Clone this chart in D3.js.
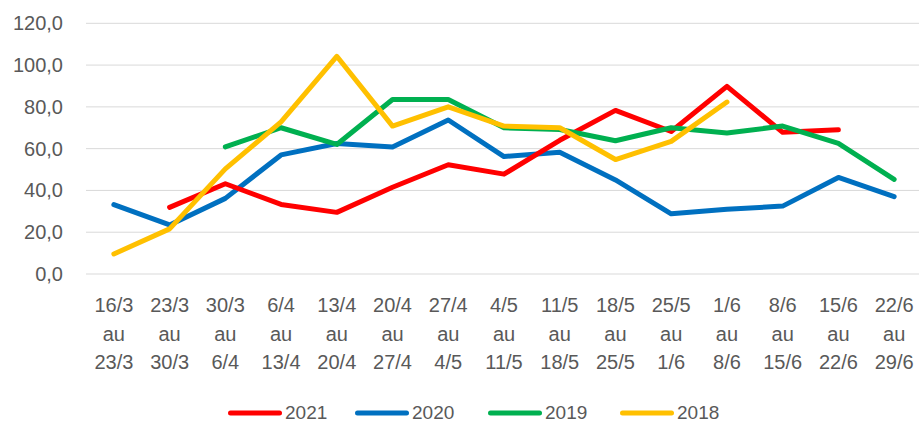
<!DOCTYPE html>
<html><head><meta charset="utf-8">
<script src="https://cdn.jsdelivr.net/npm/d3@7"></script>
<style>html,body{margin:0;padding:0;background:#fff;}svg{display:block;}</style>
</head><body>
<svg id="chart" width="919" height="423"></svg>
<script>
const categories = [
  ["16/3","au","23/3"],["23/3","au","30/3"],["30/3","au","6/4"],["6/4","au","13/4"],
  ["13/4","au","20/4"],["20/4","au","27/4"],["27/4","au","4/5"],["4/5","au","11/5"],
  ["11/5","au","18/5"],["18/5","au","25/5"],["25/5","au","1/6"],["1/6","au","8/6"],
  ["8/6","au","15/6"],["15/6","au","22/6"],["22/6","au","29/6"]
];
const seriesNames = ["2021","2020","2019","2018"];
const values2021 = [null,31.9,43.2,33.3,29.5,41.5,52.3,47.8,64.0,78.3,68.2,89.8,67.8,69.0,null];
const values2020 = [33.2,23.5,36.2,57.0,62.5,60.8,73.7,56.2,58.3,45.0,28.8,31.0,32.5,46.2,37.0];
const values2019 = [null,null,60.8,70.0,62.0,83.5,83.5,70.0,69.2,63.8,70.0,67.5,70.8,62.5,45.3];
const values2018 = [9.6,21.6,50.3,72.8,104.2,70.8,80.0,70.8,70.0,54.8,63.5,82.3,null,null,null];
const yTicks = [0,20,40,60,80,100,120];
const colors = {"2021":"#FF0000","2020":"#0070C0","2019":"#00B050","2018":"#FFC000"};
const seriesValues = {"2021":values2021,"2020":values2020,"2019":values2019,"2018":values2018};

(function(){
const svg = d3.select("#chart");
const plotLeft = 86, plotRight = 922, plotTop = 23.3, plotBottom = 274;
const font = "'Liberation Sans', Arial, sans-serif";
const textColor = "#595959";

const x = d3.scaleBand().domain(d3.range(categories.length)).range([plotLeft, plotRight]);
const y = d3.scaleLinear().domain([0,120]).range([plotBottom, plotTop]);

svg.append("g").selectAll("line").data(yTicks).join("line")
  .attr("x1", plotLeft).attr("x2", plotRight)
  .attr("y1", d => y(d)).attr("y2", d => y(d))
  .attr("stroke", "#D9D9D9").attr("stroke-width", 1);

const yAxis = d3.axisLeft(y).tickValues(yTicks).tickSize(0).tickPadding(0)
  .tickFormat(d => d3.format(".1f")(d).replace(".", ","));
const gy = svg.append("g").attr("transform", `translate(63,0)`).call(yAxis);
gy.select(".domain").remove();
gy.selectAll("text").attr("font-family", font).attr("font-size", 20).attr("fill", textColor);

const xAxis = d3.axisBottom(x).tickSize(0).tickFormat("");
const gx = svg.append("g").attr("transform", `translate(0,${plotBottom})`).call(xAxis);
gx.select(".domain").remove();
gx.selectAll(".tick").each(function(d) {
  const t = d3.select(this).append("text")
    .attr("font-family", font).attr("font-size", 20).attr("fill", textColor)
    .attr("text-anchor", "middle");
  categories[d].forEach((s, i) => {
    t.append("tspan").attr("x", 0).attr("y", 38 + i * 28.5).text(s);
  });
});

const line = d3.line()
  .defined(d => d != null)
  .x((d, i) => x(i) + x.bandwidth() / 2)
  .y(d => y(d));
const drawOrder = ["2020","2021","2019","2018"];
svg.append("g").selectAll("path").data(drawOrder).join("path")
  .attr("d", k => line(seriesValues[k]))
  .attr("fill", "none")
  .attr("stroke", k => colors[k])
  .attr("stroke-width", 5)
  .attr("stroke-linejoin", "round")
  .attr("stroke-linecap", "round");

const legendX = [228, 355, 488, 620];
const lg = svg.append("g").selectAll("g").data(seriesNames).join("g")
  .attr("transform", (d, i) => `translate(${legendX[i]},413)`);
lg.append("line").attr("x1", 2.5).attr("x2", 51.5).attr("y1", 0).attr("y2", 0)
  .attr("stroke", d => colors[d]).attr("stroke-width", 5).attr("stroke-linecap", "round");
lg.append("text").attr("x", 57).attr("y", 5.5)
  .attr("font-family", font).attr("font-size", 19).attr("fill", textColor).text(d => d);
})();
</script>
</body></html>
